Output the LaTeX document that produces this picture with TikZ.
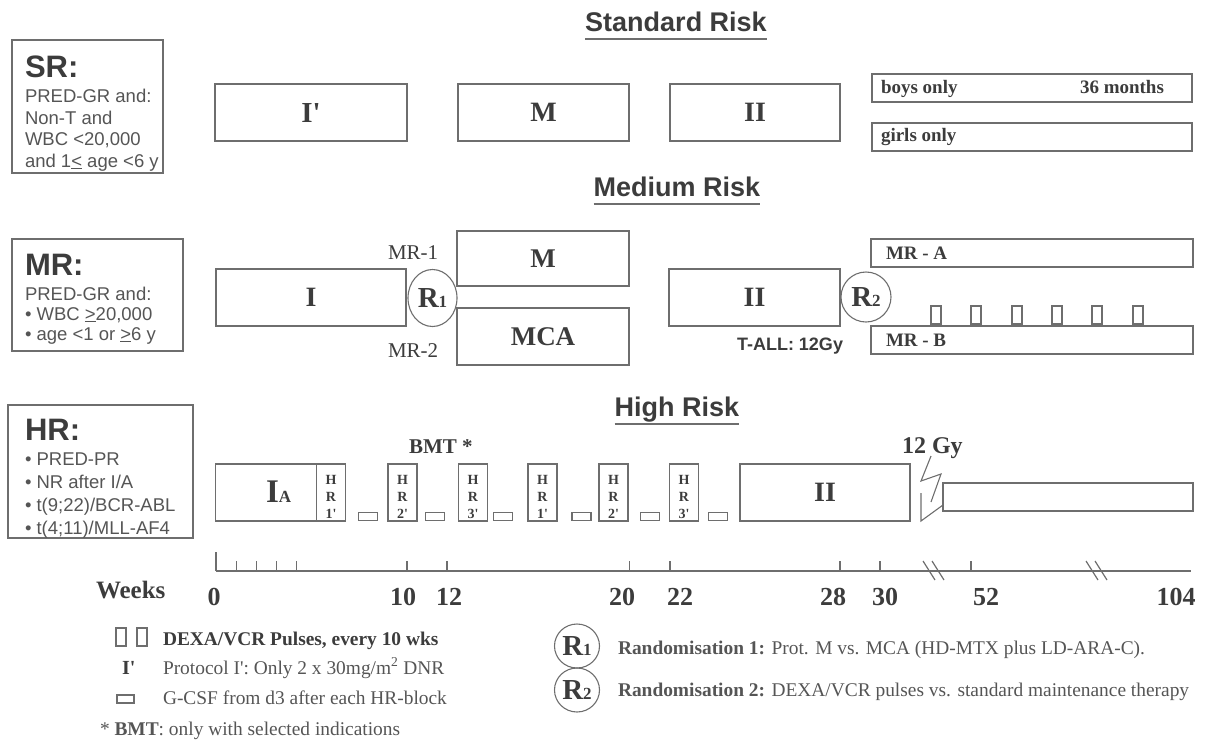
\documentclass[tikz,border=0pt]{standalone}
\usepackage{fontspec}
\setmainfont{Liberation Serif}
\setsansfont{Liberation Sans}
\usetikzlibrary{shapes.geometric}
\definecolor{tc}{HTML}{3C3C3C}
\definecolor{tl}{HTML}{555555}
\definecolor{lc}{HTML}{6E6E6E}
\newcommand{\fsz}[1]{\fontsize{#1}{#1}\selectfont}
\newcommand{\Rsub}[1]{{\fsz{29}R}{\fsz{17}#1}}
\newcommand{\pr}{\textquotesingle}
\begin{document}
\begin{tikzpicture}[x=1pt,y=-1pt,
  every node/.style={text=tc,inner sep=0pt,outer sep=0pt},
  blk/.style={draw=lc,line width=1.2pt,anchor=north west,font=\bfseries},
  crit/.style={draw=lc,line width=1.4pt,anchor=north west},
  ttl/.style={font=\sffamily\bfseries\fsz{27},anchor=base},
  uline/.style={draw=lc,line width=1.3pt},
  chead/.style={font=\sffamily\bfseries\fsz{31},anchor=base west},
  cline/.style={font=\sffamily\fsz{18.5},anchor=base west,text=tl},
  rnd/.style={draw=lc,line width=1.1pt,ellipse,font=\bfseries},
  hrb/.style={blk,minimum width=29pt,minimum height=57pt},
  gcsf/.style={draw=lc,line width=1.1pt,anchor=north west,minimum width=19pt,minimum height=8pt},
  pulse/.style={draw=lc,line width=1.1pt,anchor=north west,minimum width=10pt,minimum height=18pt},
  wk/.style={font=\bfseries\fsz{26},anchor=base},
  leg/.style={font=\fsz{19.4},anchor=base west,text=tl},
  ax/.style={draw=lc,line width=1.2pt}
]
\useasboundingbox (0,0) rectangle (1205,740);

% ---------- titles
\node[ttl] (tSR) at (676,31) {Standard Risk};
\draw[uline] ([yshift=-8pt]tSR.base west) -- ([yshift=-8pt]tSR.base east);
\node[ttl] (tMR) at (677,196) {Medium Risk};
\draw[uline] ([yshift=-8pt]tMR.base west) -- ([yshift=-8pt]tMR.base east);
\node[ttl] (tHR) at (677,416) {High Risk};
\draw[uline] ([yshift=-8pt]tHR.base west) -- ([yshift=-8pt]tHR.base east);

% ---------- criteria boxes
\node[crit,minimum width=151pt,minimum height=133pt] (srbox) at (12,40) {};
\node[chead] (sr0) at (25,77) {SR:};
\node[cline] (sr1) at (25,102) {PRED-GR and:};
\node[cline] (sr2) at (25,124) {Non-T and};
\node[cline] (sr3) at (25,145) {WBC <20,000};
\node[cline] (sr4) at (25,167) {and 1\underline{<} age <6 y};

\node[crit,minimum width=171pt,minimum height=112pt] (mrbox) at (12,239) {};
\node[chead] (mr0) at (25,275) {MR:};
\node[cline] (mr1) at (25,300) {PRED-GR and:};
\node[cline] (mr2) at (25,320) {\textbullet\ WBC \underline{>}20,000};
\node[cline] (mr3) at (25,340) {\textbullet\ age <1 or \underline{>}6 y};

\node[crit,minimum width=185pt,minimum height=133pt] (hrbox) at (8,405) {};
\node[chead] (hr0) at (25,440) {HR:};
\node[cline] (hr1) at (25,465) {\textbullet\ PRED-PR};
\node[cline] (hr2) at (25,488) {\textbullet\ NR after I/A};
\node[cline] (hr3) at (25,511) {\textbullet\ t(9;22)/BCR-ABL};
\node[cline] (hr4) at (25,534) {\textbullet\ t(4;11)/MLL-AF4};

% ---------- Standard risk row
\node[blk,minimum width=192pt,minimum height=57pt] (sI) at (215,84) {\fsz{29}I\pr};
\node[blk,minimum width=171pt,minimum height=57pt] (sM) at (458,84) {\fsz{28}M};
\node[blk,minimum width=170pt,minimum height=57pt] (sII) at (670,84) {\fsz{28}II};
\node[blk,minimum width=320pt,minimum height=28pt] (boys) at (872,74) {};
\node[font=\bfseries\fsz{19},anchor=base west] (boyst) at (881,93) {boys only};
\node[font=\bfseries\fsz{19},anchor=base west] (mon) at (1080,93) {36 months};
\node[blk,minimum width=320pt,minimum height=28pt] (girls) at (872,123) {};
\node[font=\bfseries\fsz{19},anchor=base west] (girlst) at (881,141) {girls only};

% ---------- Medium risk row
\node[blk,minimum width=190pt,minimum height=57pt] (mI) at (216,269) {\fsz{28}I};
\node[rnd,minimum width=49pt,minimum height=57pt] (r1) at (432.5,298) {\Rsub{1}};
\node[font=\fsz{21},anchor=base west] (mr1l) at (388,259) {MR-1};
\node[font=\fsz{21},anchor=base west] (mr2l) at (388,357) {MR-2};
\node[blk,minimum width=172pt,minimum height=55pt] (mM) at (457,231) {\fsz{27}M};
\node[blk,minimum width=172pt,minimum height=57pt] (mMCA) at (457,308) {\fsz{27}MCA};
\node[blk,minimum width=171pt,minimum height=57pt] (mII) at (669,269) {\fsz{28}II};
\node[rnd,minimum width=50pt,minimum height=50pt] (r2) at (866,297) {\Rsub{2}};
\node[font=\sffamily\bfseries\fsz{18},anchor=base west] (tall) at (737,350) {T-ALL: 12Gy};
\node[blk,minimum width=322pt,minimum height=28pt] (mra) at (871,239) {};
\node[font=\bfseries\fsz{19},anchor=base west] (mrat) at (886,259) {MR - A};
\node[blk,minimum width=322pt,minimum height=28pt] (mrb) at (871,326) {};
\node[font=\bfseries\fsz{19},anchor=base west] (mrbt) at (886,346) {MR - B};
\foreach \i/\x in {1/931,2/971,3/1012,4/1052,5/1092,6/1133}
  \node[pulse] (p\i) at (\x,306) {};

% ---------- High risk row
\node[font=\bfseries\fsz{21},anchor=base west] (bmt) at (409,453) {BMT *};
\node[blk,minimum width=101pt,minimum height=57pt] (hIA) at (215.5,464) {};
\node[anchor=base west,font=\bfseries] (iat) at (266,502) {{\fsz{33}I}{\fsz{17}A}};
\foreach \n/\x in {a/316.5,b/388,c/458.5,d/528,e/599,f/669.5}
  \node[hrb] (hr\n) at (\x,464) {};
\foreach \n/\lab in {a/1,b/2,c/3,d/1,e/2,f/3}
  \node[font=\bfseries\fsz{14},align=center] (hrt\n) at ([yshift=-4pt]hr\n.center) {H\\[3pt]R\\[3pt]\lab\pr};
\foreach \i/\x in {1/358.5,2/425.5,3/493.5,4/572,5/640.5,6/708.5}
  \node[gcsf] (g\i) at (\x,512.5) {};
\node[blk,minimum width=170pt,minimum height=57pt] (hII) at (740,464) {\fsz{28}II};
\node[blk,minimum width=250pt,minimum height=28pt] (hmaint) at (943,483) {};
\node[font=\bfseries\fsz{24},anchor=base west] (gy) at (902,453) {12 Gy};
\coordinate (z1) at (931,456);
\coordinate (z2) at (921,481);
\coordinate (z3) at (941,474);
\coordinate (z4) at (931,502);
\coordinate (z5) at (921,493);
\coordinate (z6) at (921,521);
\draw[lc,line width=1.1pt] (z1) -- (z2) -- (z3) -- (z4);
\draw[lc,line width=1.1pt] (z5) -- (z6) -- (hmaint.west |- 0,505);

% ---------- axis
\draw[ax] (216,571) -- (1191,571);
\draw[ax] (216,552) -- (216,571);
\foreach \x in {236.5,256.5,276.5,296.5,407,447,629.5,670,840,880,971}
  \draw[ax] (\x,561) -- (\x,571);
\draw[ax] (923,561) -- (935,580);
\draw[ax] (932,561) -- (944,580);
\draw[ax] (1086,561) -- (1098,580);
\draw[ax] (1095,561) -- (1107,580);
\node[font=\bfseries\fsz{25},anchor=base west] (weeks) at (96,598) {Weeks};
\foreach \n/\x in {0/214,10/403,12/449,20/622,22/680,28/833,30/885,52/986,104/1176}
  \node[wk] (w\n) at (\x,605) {\n};

% ---------- legend
\node[pulse] (lp1) at (116,628) {};
\node[pulse] (lp2) at (137,628) {};
\node[leg,font=\bfseries\fsz{19.4},text=tc] (ldexa) at (163,645) {DEXA/VCR Pulses, every 10 wks};
\node[font=\bfseries\fsz{20},anchor=base west] (li) at (122,674) {I\pr};
\node[leg] (lprot) at (163,674) {Protocol I\pr: Only 2 x 30mg/m\textsuperscript{2} DNR};
\node[gcsf,minimum width=17pt] (lg) at (117,695) {};
\node[leg] (lgt) at (163,704) {G-CSF from d3 after each HR-block};
\node[leg] (lbmt) at (100,735) {* \textbf{BMT}: only with selected indications};
\node[rnd,minimum width=45pt,minimum height=44pt] (lr1) at (577,646) {\Rsub{1}};
\node[rnd,minimum width=45pt,minimum height=44pt] (lr2) at (577,690) {\Rsub{2}};
\node[leg] (lr1t) at (618,654) {\textbf{Randomisation 1:} Prot. M vs. MCA (HD-MTX plus LD-ARA-C).};
\node[leg] (lr2t) at (618,696) {\textbf{Randomisation 2:} DEXA/VCR pulses vs. standard maintenance therapy};
\end{tikzpicture}
\end{document}
